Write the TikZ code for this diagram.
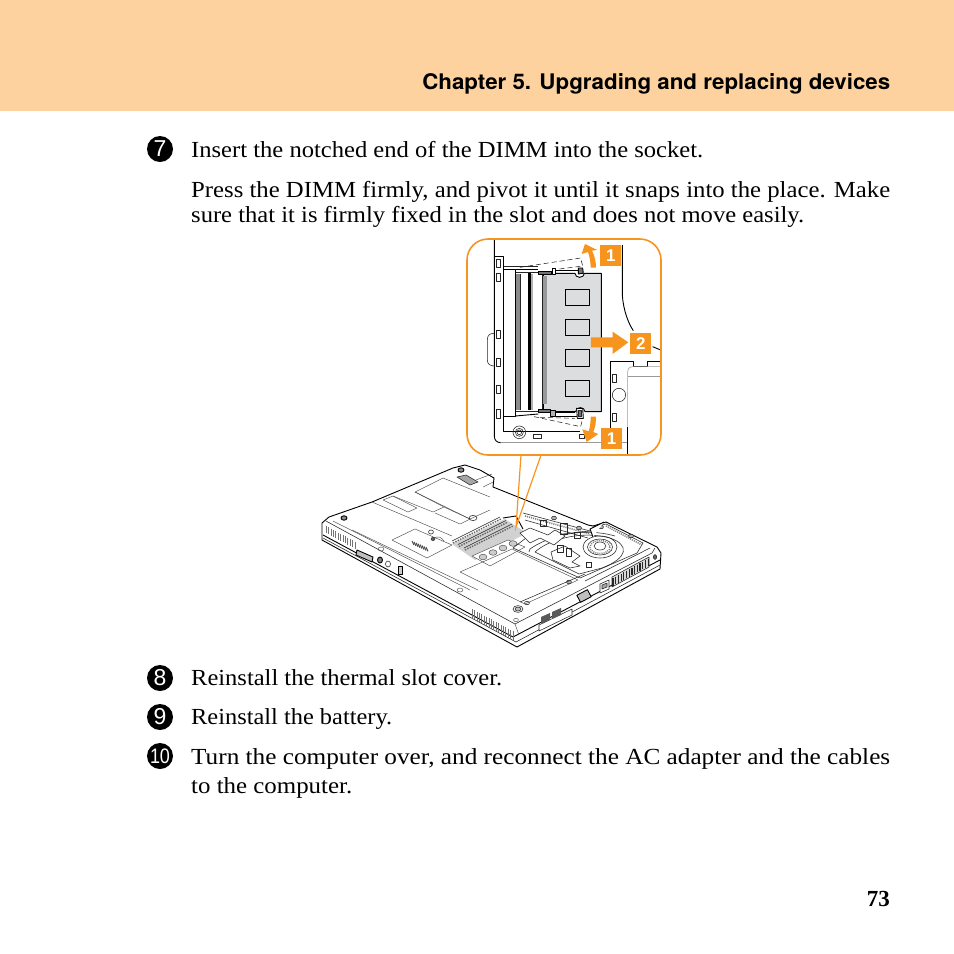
\documentclass[tikz,border=0pt]{standalone}
\usepackage{fontspec}
\usepackage{graphicx}
\setmainfont{Liberation Serif}
\newfontfamily\headfont{TeX Gyre Heros}
\newfontfamily\digitfont{Liberation Sans}
\definecolor{band}{HTML}{FDD29E}
\definecolor{orng}{HTML}{F7941D}
\definecolor{dimmgray}{HTML}{DCDDDE}
\definecolor{midgray}{HTML}{9A9A9A}
\newcommand{\fitw}[2]{\resizebox{#1pt}{\height}{#2}}
\tikzset{
  x=1pt,y=-1pt,
  bodytext/.style={anchor=base west,inner sep=0pt,font=\fontsize{23}{23}\selectfont},
  stepnum/.style={circle,fill=black,text=white,inner sep=0pt,minimum size=26pt,font=\digitfont\fontsize{23}{23}\selectfont},
  callbox/.style={fill=orng,text=white,inner sep=0pt,minimum size=21pt,font=\digitfont\bfseries\fontsize{17}{17}\selectfont},
  ink/.style={line width=0.9pt,black},
  thin ink/.style={line width=0.55pt,black!85},
  faint/.style={line width=0.45pt,black!70},
  graybar/.style={line width=0.6pt,midgray},
}
\begin{document}
\begin{tikzpicture}
\useasboundingbox (0,0) rectangle (954,954);
\fill[white] (0,0) rectangle (954,954);
\fill[band] (0,0) rectangle (954,111);
\node[anchor=base east,inner sep=0pt,font=\headfont\bfseries\fontsize{21.5}{21.5}\selectfont] (head) at (890.5,89) {\fitw{468}{Chapter 5. Upgrading and replacing devices}};

\node[stepnum] (n7) at (160,149) {7};
\node[bodytext] (t7) at (191,157) {\fitw{512}{Insert the notched end of the DIMM into the socket.}};
\node[bodytext] (p1) at (191,197) {\fitw{699}{Press the DIMM firmly, and pivot it until it snaps into the place. Make}};
\node[bodytext] (p2) at (191,222) {\fitw{613}{sure that it is firmly fixed in the slot and does not move easily.}};
\node[stepnum] (n8) at (160,678) {8};
\node[bodytext] (t8) at (191,685) {\fitw{311}{Reinstall the thermal slot cover.}};
\node[stepnum] (n9) at (160,717) {9};
\node[bodytext] (t9) at (191,724) {\fitw{201}{Reinstall the battery.}};
\node[stepnum,font=\digitfont\fontsize{21}{21}\selectfont] (n10) at (160,756) {\resizebox{20pt}{\height}{10}};
\node[bodytext] (t10) at (191,764) {\fitw{699}{Turn the computer over, and reconnect the AC adapter and the cables}};
\node[bodytext] (t10b) at (191,793) {\fitw{161}{to the computer.}};
\node[anchor=base east,inner sep=0pt,font=\bfseries\fontsize{23}{23}\selectfont] (pg) at (890,906) {73};

% ---------- laptop (page pixel coordinates)
\begin{scope}[line join=round]
% outer outline
\draw[ink,fill=white] (322,523) -- (322,540) -- (517,647) -- (660,569) -- (661,553) -- (657,547) -- (606,522) -- (593,526) -- (588,525) -- (493,487) -- (494,478) -- (480,470) -- (465,465) -- (453,468) -- (372,502) -- (329,517) -- cycle;
% front lip lines
\draw[ink] (323,535) -- (513,637) -- (660,560);
\draw[thin ink] (323,538) -- (516,642) -- (660,565);
\draw[thin ink] (326,521) -- (515,624) -- (652,553) -- (655,548);
\draw[faint] (515,624) -- (519,635);
% upper panels
\draw[faint] (383,500) -- (408,512) -- (417,508) -- (393,496) -- cycle;
\draw[faint] (393,496) -- (433,512) -- (444,507) -- (415,492) -- (443,478) -- (490,497);
\draw[faint] (435,513) -- (460,524) -- (470,519) -- (444,507);
\draw[faint] (415,492) -- (470,519);
\draw[faint] (352,530) -- (478,590);
\draw[faint] (333,521) -- (470,590);
\draw[faint] (372,502) -- (452,536);
\draw[faint] (470,519) -- (490,510);
\draw[ink,fill=black!45] (461,470) circle[x radius=3,y radius=2.2];
\draw[ink,fill=black!45] (344,518) circle[x radius=3,y radius=2.2];
\draw[thin ink] (473,518) circle[x radius=4,y radius=2.6];
\draw[faint] (381,549) circle[x radius=3,y radius=2];
\draw[faint] (460,590) circle[x radius=3,y radius=2];
% hinge near top
\draw[thin ink,fill=black!35] (457,477) -- (466,475) -- (478,482) -- (470,485) -- cycle;
\draw[faint] (476,480) -- (492,474);
\draw[faint] (483,487) -- (493,482);
% door with label
\draw[faint] (392,540) -- (415,529) -- (452,545) -- (427,558) -- cycle;
\foreach \dx in {0,2,...,14} {\draw[line width=1pt,black!70] ({412+\dx},{541+\dx*0.45}) -- ++(2,4);}
\draw[thin ink] (431,532) circle[x radius=2.5,y radius=2];
\draw[thin ink,fill=black!60] (433,539) circle[x radius=2,y radius=1.5];
\draw[faint] (433,539) .. controls (438,535) and (441,537) .. (444,541);
% memory area
\fill[black!18] (452,544) -- (505,519) -- (527,533) -- (475,560) -- cycle;
\foreach \i in {0,1,2} {
  \draw[thin ink] ({452+\i*6},{541+\i*3.5}) -- ({500+\i*6},{517+\i*3.5});
  \draw[line width=1.4pt,black!60,dash pattern=on 1.4pt off 1.2pt] ({453+\i*6},{543+\i*3.5}) -- ({501+\i*6},{519+\i*3.5});
}
\draw[faint,fill=white] (472,556) -- (508,540) -- (525,547) -- (490,566) -- cycle;
\foreach \i in {0,1,2,3} {\draw[faint,fill=black!20] ({483+\i*10},{557-\i*4.5}) circle[x radius=4,y radius=2.8];}
\draw[ink] (503,518) -- (516,516) -- (523,529);
\draw[faint] (460,572) -- (512,549) -- (578,580) -- (525,604) -- cycle;
% hatch strip top of fan bay
\draw[line width=1.6pt,black!50,dash pattern=on 1.1pt off 1pt] (525,516) -- (590,534);
\draw[thin ink] (523,513) -- (590,531);
\draw[thin ink] (525,520) -- (588,538);
% fan bay
\draw[thin ink] (513,548) -- (526,538) -- (590,531);
\draw[thin ink] (593,527) -- (606,524) -- (643,543) -- (637,553) -- (580,578) -- (513,548);
\draw[line width=1.5pt,black!50,dash pattern=on 1.1pt off 1pt] (606,526) -- (642,545);
\draw[thin ink] (535,552) .. controls (548,540) and (580,530) .. (610,538) .. controls (630,545) and (628,558) .. (602,568) -- (579,574) -- (535,552);
\draw[thin ink] (529,552) -- (530,549) .. controls (545,538) and (580,526) .. (615,536);
\draw[thin ink] (600,547) ellipse[x radius=17,y radius=11];
\draw[thin ink] (600,547) ellipse[x radius=12.5,y radius=8];
\draw[thin ink] (600,546) ellipse[x radius=6,y radius=4];
\draw[line width=1.5pt,black!50,dash pattern=on 1pt off 1.1pt] (600,547) ellipse[x radius=10,y radius=6.5];
% pipes and heatsink
\draw[thin ink,fill=white] (520,533) -- (530,528) -- (548,535) -- (555,530) -- (565,536) -- (554,545) -- (540,538) -- (530,543) -- cycle;
\draw[thin ink,fill=white] (551,552) -- (565,546) -- (580,556) -- (572,562) -- (580,566) -- (570,568) -- (553,560) -- cycle;
\draw[thin ink] (540,520) rectangle (546,526);
\draw[thin ink] (560,523) rectangle (567,534);
\draw[thin ink] (574,532) rectangle (580,538);
\draw[thin ink] (557,545) rectangle (563,552);
\draw[thin ink] (566,548) rectangle (571,556);
\draw[thin ink] (586,562) rectangle (591,567);
\draw[thin ink,fill=black!30] (554,518) circle[x radius=2.5,y radius=1.8];
\draw[thin ink,fill=black!30] (579,528) circle[x radius=2.5,y radius=1.8];
\draw[thin ink,fill=black!30] (601,527) circle[x radius=2.5,y radius=1.8];
\draw[thin ink,fill=black!30] (631,536) circle[x radius=2.5,y radius=1.8];
\draw[thin ink,fill=black!30] (569,582) circle[x radius=2.5,y radius=1.8];
% right side bits
\draw[ink,fill=white] (593,537) -- (590,529) -- (604,522);
\draw[thin ink] (585,581) -- (650,548);
\draw[thin ink] (520,602) -- (585,574);
\draw[thin ink,fill=black!60] (655,557) circle[x radius=1.6,y radius=2.4];
% vents on rear corner
\fill[black!15] (612,577) -- (649,557) -- (649,567) -- (612,587) -- cycle;
\foreach \i in {0,...,13} {\draw[line width=1.2pt,black!85] ({613+\i*2.7},{578-\i*1.5}) -- ++(0,7.5);}
\draw[thin ink] (612,577) -- (649,557) -- (649,567) -- (612,587) -- cycle;
% ports
\draw[thin ink,fill=white] (600,584) -- (609,580) -- (609,589) -- (600,593) -- cycle;
\draw[thin ink,fill=black!35] (602,585) -- (607,583) -- (607,587) -- (602,589) -- cycle;
\draw[ink,fill=black!25,rotate around={28:(584,596)}] (578,592) rectangle (590,600);
\draw[thin ink,fill=white] (539,625) -- (572,609) -- (572,615) -- (539,631) -- cycle;
\foreach \px/\py in {541/617,552/612}{\fill[black!65] (\px,\py) -- ++(9,-4) -- ++(0,7) -- ++(-9,4) -- cycle;}
\draw[thin ink,fill=white] (518,609) circle[x radius=5,y radius=3.4];
\draw[thin ink,fill=black!25] (518,609) circle[x radius=3,y radius=2];
\draw[thin ink] (527,603) circle[x radius=2.5,y radius=1.7];
\draw[faint] (516,620) circle[x radius=2.4,y radius=1.7];
% speaker grilles
\foreach \i in {0,...,12} {\draw[line width=0.5pt,black!55] ({326+\i*2.4},{526+\i*1.3}) -- ++(0,7);}
\foreach \i in {0,...,17} {\draw[line width=0.5pt,black!55] ({472+\i*2.4},{609+\i*1.3}) -- ++(0,9);}
% left side ports
\draw[ink,fill=black!25] (357,550) -- (373,557) -- (372,562) -- (356,555) -- cycle;
\draw[ink,fill=black!50] (380,560) circle[x radius=2.5,y radius=3];
\draw[thin ink] (388,564) circle[x radius=2.5,y radius=3];
\draw[ink,fill=black!20] (398,566) rectangle (402,574);
\end{scope}

% ---------- leader lines to the inset
\coordinate (laptoptip) at (516,527);
\coordinate (lead1) at (521,455);
\coordinate (lead2) at (541,455);
\draw[orng,line width=1.2pt] (lead1) -- (laptoptip) -- (lead2);

% ---------- inset (zoomed crop coordinates)
\begin{scope}[shift={(460,230)},x=0.3333pt,y=-0.3333pt,line join=round]
\draw[ink] (103,28) -- (103,618) .. controls (103,630) and (110,638) .. (122,638);
\draw[graybar] (122,638) -- (502,638);
\draw[ink] (502,590) -- (502,672);
\draw[ink] (487,45) -- (487,195) .. controls (490,240) and (505,280) .. (520,302);
\draw[ink] (578,350) -- (602,360);
% strip
\draw[ink] (103,78) -- (131,78) -- (131,118);
\draw[ink] (131,558) -- (131,605) -- (360,605);
\foreach \ya/\yb in {88/112,130/155,300/325,385/410,465/490,538/565} {\draw[thin ink] (108,\ya) rectangle (122,\yb);}
\draw[thin ink] (131,183) -- (150,183) .. controls (158,183) and (158,190) .. (158,195) -- (158,235) .. controls (158,245) and (155,247) .. (148,247) -- (131,247);
\draw[thin ink] (103,310) .. controls (90,310) and (82,315) .. (82,330) -- (82,390) .. controls (82,402) and (90,408) .. (103,408);
\draw[thin ink] (131,392) rectangle (158,410);
% socket
\draw[ink,fill=white] (131,118) rectangle (167,558);
\draw[ink] (167,118) -- (235,118);
\draw[ink] (167,558) -- (235,552);
\draw[thin ink] (131,110) -- (235,110);
\draw[thin ink] (168,128) -- (247,128);
\draw[thin ink] (168,545) -- (247,545);
\fill[black!45] (168,132) rectangle (180,540);
\fill[black!30] (212,132) rectangle (218,540);
\draw[thin ink] (180,132) -- (180,540);
\fill[black] (205,130) rectangle (212,540);
\draw[thin ink] (247,130) -- (247,540);
% DIMM
\draw[ink,fill=dimmgray] (250,130) -- (345,130) arc[start angle=180,end angle=0,x radius=14,y radius=12] -- (424,130) -- (424,545) -- (375,545) arc[start angle=0,end angle=-180,x radius=14,y radius=12] -- (250,545) -- cycle;
\fill[black!40] (248,138) rectangle (260,522);
\foreach \ya/\yb in {178/226,268/316,358/408,451/499} {\draw[ink,fill=dimmgray] (316,\ya) rectangle (388,\yb);}
% clips
\draw[ink,fill=black!55] (235,124) rectangle (275,132);
\draw[ink,fill=white] (277,116) rectangle (287,132);
\draw[ink] (287,122) -- (355,122);
\draw[ink] (287,130) -- (345,130);
\draw[ink,fill=black!55] (355,114) -- (368,114) -- (370,130) -- (355,132) -- cycle;
\draw[ink,fill=black!55] (235,538) rectangle (270,548);
\draw[ink,fill=black!30] (272,542) rectangle (287,560);
\draw[ink] (287,548) -- (345,548);
\draw[ink] (287,558) -- (355,558);
\draw[ink,fill=white] (350,535) -- (368,535) -- (370,565) -- (352,565) -- cycle;
\draw[thin ink,fill=black!55] (355,540) rectangle (365,560);
% dashed open latches
\draw[thin ink,dash pattern=on 5pt off 3pt] (180,112) -- (362,84) -- (368,108) -- (290,118);
\draw[thin ink,dash pattern=on 5pt off 3pt] (222,560) -- (362,590) -- (368,565);
\draw[thin ink,dash pattern=on 5pt off 3pt] (240,562) -- (345,565);
% screw & lower details
\draw[thin ink] (178,607) circle[radius=19];
\draw[thin ink] (178,607) circle[radius=12];
\draw[thin ink] (178,607) circle[radius=7];
\draw[thin ink] (220,613) rectangle (245,625);
\draw[thin ink] (357,613) rectangle (372,625);
% right lower bay
\draw[ink] (450,640) -- (450,393) -- (520,393) -- (520,408) -- (562,408) -- (562,393) -- (602,393);
\draw[graybar] (600,410) -- (520,410) .. controls (508,410) and (503,416) .. (503,428) -- (503,590);
\draw[graybar] (503,440) -- (602,440);
\draw[thin ink] (477,495) circle[radius=20];
\draw[thin ink] (457,432) rectangle (470,458);
\draw[thin ink] (457,550) rectangle (470,575);
% arrows
\fill[orng] (393,322) -- (458,322) -- (458,305) -- (505,337) -- (458,372) -- (458,352) -- (393,352) -- cycle;
\fill[orng] (392,113) .. controls (392,92) and (388,78) .. (384,66) -- (365,72) -- (375,42) -- (412,60) -- (396,62) .. controls (404,78) and (408,94) .. (408,113) -- cycle;
\fill[orng] (392,560) .. controls (392,578) and (390,592) .. (386,604) -- (367,598) -- (380,636) -- (415,612) -- (400,606) .. controls (406,592) and (408,578) .. (408,560) -- cycle;
\node[callbox] (c1) at (452.5,75.5) {1};
\node[callbox] (c2) at (542.5,341) {2};
\node[callbox] (c3) at (454.5,625) {1};
\end{scope}
\draw[orng,line width=1.6pt,rounded corners=21pt] (467,239) rectangle (661,455);
\end{tikzpicture}
\end{document}
